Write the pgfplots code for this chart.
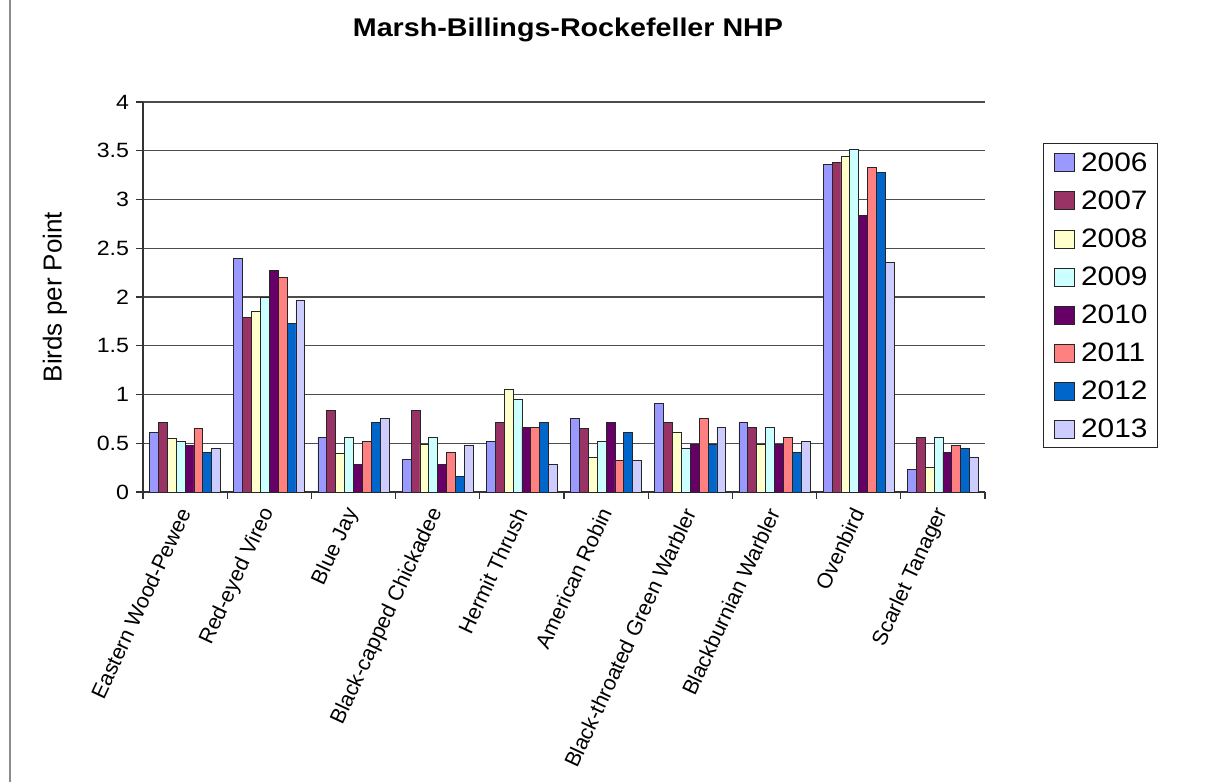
\documentclass[border=0pt]{standalone}
\usepackage{fontspec}
\setmainfont{Liberation Sans}
\newfontfamily\widefont[FakeStretch=1.12]{Liberation Sans}
\usepackage{pgfplots}
\usepackage{pgfplotstable}
\pgfplotsset{compat=1.18}
\definecolor{c2006}{HTML}{9999FF}
\definecolor{c2007}{HTML}{993366}
\definecolor{c2008}{HTML}{FFFFCC}
\definecolor{c2009}{HTML}{CCFFFF}
\definecolor{c2010}{HTML}{660066}
\definecolor{c2011}{HTML}{FF8080}
\definecolor{c2012}{HTML}{0066CC}
\definecolor{c2013}{HTML}{CCCCFF}
\pgfplotstableread{
idx y2006 y2007 y2008 y2009 y2010 y2011 y2012 y2013
0 0.61 0.71 0.55 0.52 0.48 0.65 0.41 0.45
1 2.40 1.79 1.85 2.00 2.27 2.20 1.73 1.97
2 0.56 0.84 0.40 0.56 0.28 0.52 0.71 0.75
3 0.33 0.84 0.49 0.56 0.28 0.41 0.16 0.48
4 0.52 0.71 1.05 0.95 0.66 0.66 0.71 0.28
5 0.75 0.65 0.35 0.52 0.71 0.32 0.61 0.32
6 0.91 0.71 0.61 0.45 0.49 0.75 0.49 0.66
7 0.71 0.66 0.49 0.66 0.49 0.56 0.41 0.52
8 3.36 3.38 3.44 3.51 2.84 3.33 3.28 2.35
9 0.23 0.56 0.25 0.56 0.41 0.48 0.45 0.36
}\datatable
\begin{document}
\begin{tikzpicture}
\useasboundingbox (-107.25pt,-217.5pt) rectangle (808.5pt,369pt);
\draw[black!45, line width=0.8pt] (-99.75pt,-217.5pt) -- (-99.75pt,369pt);
\begin{axis}[
  scale only axis,
  width=631.5pt, height=292.5pt,
  at={(0,0)}, anchor=south west,
  ybar=0pt, bar width=6.67pt,
  xmin=-0.5, xmax=9.5, ymin=0, ymax=4,
  ytick={0,0.5,...,4},
  /pgf/number format/fixed,
  /pgf/number format/assume math mode=true,
  axis x line*=bottom, axis y line*=left,
  axis line style={black!80, line width=0.9pt},
  tick align=outside,
  major tick length=5pt,
  tick style={black!80, line width=0.9pt},
  ymajorgrids,
  grid style={black!70, line width=0.9pt},
  xtick={-0.5,0.5,...,9.5},
  xticklabels={},
  extra x ticks={0,1,2,3,4,5,6,7,8,9},
  extra x tick labels={Eastern Wood-Pewee,Red-eyed Vireo,Blue Jay,Black-capped Chickadee,Hermit Thrush,American Robin,Black-throated Green Warbler,Blackburnian Warbler,Ovenbird,Scarlet Tanager},
  extra x tick style={major tick length=0pt, xmajorgrids=false,
    xticklabel style={xshift=1pt, yshift=-10pt, rotate=65, anchor=east, font=\fontsize{16}{19}\selectfont}},
  yticklabel style={font=\widefont\fontsize{15.5}{18}\selectfont, black, xshift=-2pt},
  ylabel={Birds per Point},
  every axis y label/.style={at={(axis description cs:-0.1045,0.5)}, rotate=90, anchor=center, font=\fontsize{19.5}{23}\selectfont},
  title={Marsh-Billings-Rockefeller NHP},
  title style={font=\widefont\bfseries\fontsize{19.2}{23}\selectfont, at={(axis description cs:0.5,1)}, anchor=center, yshift=48pt, xshift=3pt},
  every axis plot/.append style={draw=black!85, line width=0.6pt},
  legend image code/.code={\draw[#1, line width=0.6pt] (0pt,-7.6pt) rectangle (15pt,5.9pt);},
  legend style={at={(1.069,0.895)}, anchor=north west, draw=black!85, line width=0.8pt,
    font=\widefont\fontsize{20}{24}\selectfont, row sep=13.5pt, inner xsep=7.5pt, inner ysep=6.5pt,
    nodes={inner sep=0pt, text height=14.3pt, text depth=0pt},
    /tikz/every odd column/.append style={column sep=5pt}},
  legend cell align=left,
]
\addplot[fill=c2006] table[x=idx,y=y2006]{\datatable};
\addplot[fill=c2007] table[x=idx,y=y2007]{\datatable};
\addplot[fill=c2008] table[x=idx,y=y2008]{\datatable};
\addplot[fill=c2009] table[x=idx,y=y2009]{\datatable};
\addplot[fill=c2010] table[x=idx,y=y2010]{\datatable};
\addplot[fill=c2011] table[x=idx,y=y2011]{\datatable};
\addplot[fill=c2012] table[x=idx,y=y2012]{\datatable};
\addplot[fill=c2013] table[x=idx,y=y2013]{\datatable};
\legend{2006,2007,2008,2009,2010,2011,2012,2013}
\end{axis}
\end{tikzpicture}
\end{document}
